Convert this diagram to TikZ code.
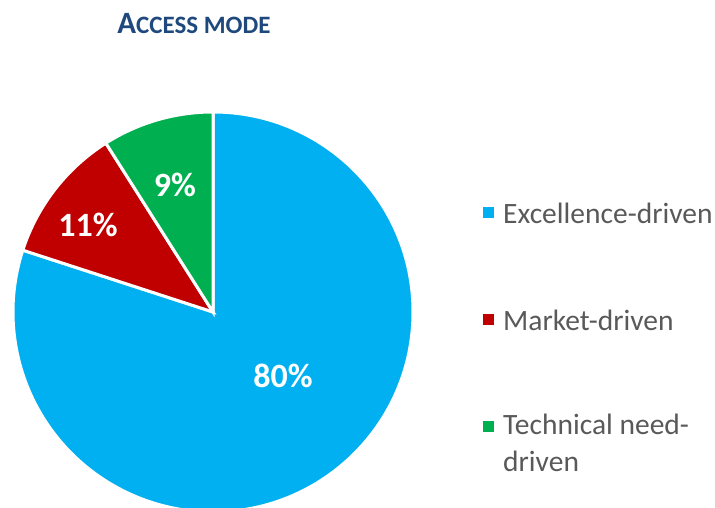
\documentclass[tikz,border=0pt]{standalone}
\usepackage{fontspec}
\setmainfont{Carlito}
\usetikzlibrary{positioning}
\definecolor{excblue}{RGB}{0,176,240}
\definecolor{mktred}{RGB}{192,0,0}
\definecolor{techgreen}{RGB}{0,176,80}
\definecolor{titleblue}{RGB}{31,73,125}
\definecolor{keygray}{RGB}{89,89,89}

\begin{document}
\begin{tikzpicture}[x=1pt, y=1pt, node distance=3cm]
    \useasboundingbox (0,0) rectangle (715,508);
    \clip (0,0) rectangle (715,508);

    % slices
    \coordinate (Centre) at (213,196);
    \filldraw [fill=excblue, draw=white, line width=3pt]
        (Centre) -- ++(90:200) arc (90:-198:200) -- cycle;
    \filldraw [fill=mktred, draw=white, line width=3pt]
        (Centre) -- ++(162:200) arc (162:122.4:200) -- cycle;
    \filldraw [fill=techgreen, draw=white, line width=3pt]
        (Centre) -- ++(122.4:200) arc (122.4:90:200) -- cycle;

    \node [text=white, font=\bfseries\fontsize{34}{40}\selectfont]
        (Label1) at (283,132) {80\%};
    \node [text=white, font=\bfseries\fontsize{34}{40}\selectfont]
        (Label2) at (88,283) {11\%};
    \node [text=white, font=\bfseries\fontsize{34}{40}\selectfont]
        (Label3) at (175,323) {9\%};

    \node [text=titleblue, font=\bfseries\fontsize{25}{28}\selectfont]
        (Title) at (194,484) {{\fontsize{31}{34}\selectfont A}CCESS MODE};

    % legend
    \node [fill=excblue,
        minimum size=11pt,
        inner sep=0pt
    ]  (Key1) at (488,295) {};
    \node [fill=mktred,
        minimum size=11pt,
        inner sep=0pt
    ]  (Key2) at (488,188) {};
    \node [fill=techgreen,
        minimum size=11pt,
        inner sep=0pt
    ]  (Key3) at (488,81) {};

    \node [text=keygray,
        font=\fontsize{29.5}{37}\selectfont,
        anchor=west,
        right=6pt of Key1
    ]  (Entry1) {Excellence-driven};
    \node [text=keygray,
        font=\fontsize{29.5}{37}\selectfont,
        anchor=west,
        right=6pt of Key2
    ]  (Entry2) {Market-driven};
    \node [text=keygray,
        font=\fontsize{29.5}{37}\selectfont,
        anchor=north west,
        align=left,
        inner xsep=3.3pt
    ]  (Entry3) at ([xshift=6pt, yshift=17pt]Key3.east) {Technical need-\\driven};

\end{tikzpicture}
\end{document}
